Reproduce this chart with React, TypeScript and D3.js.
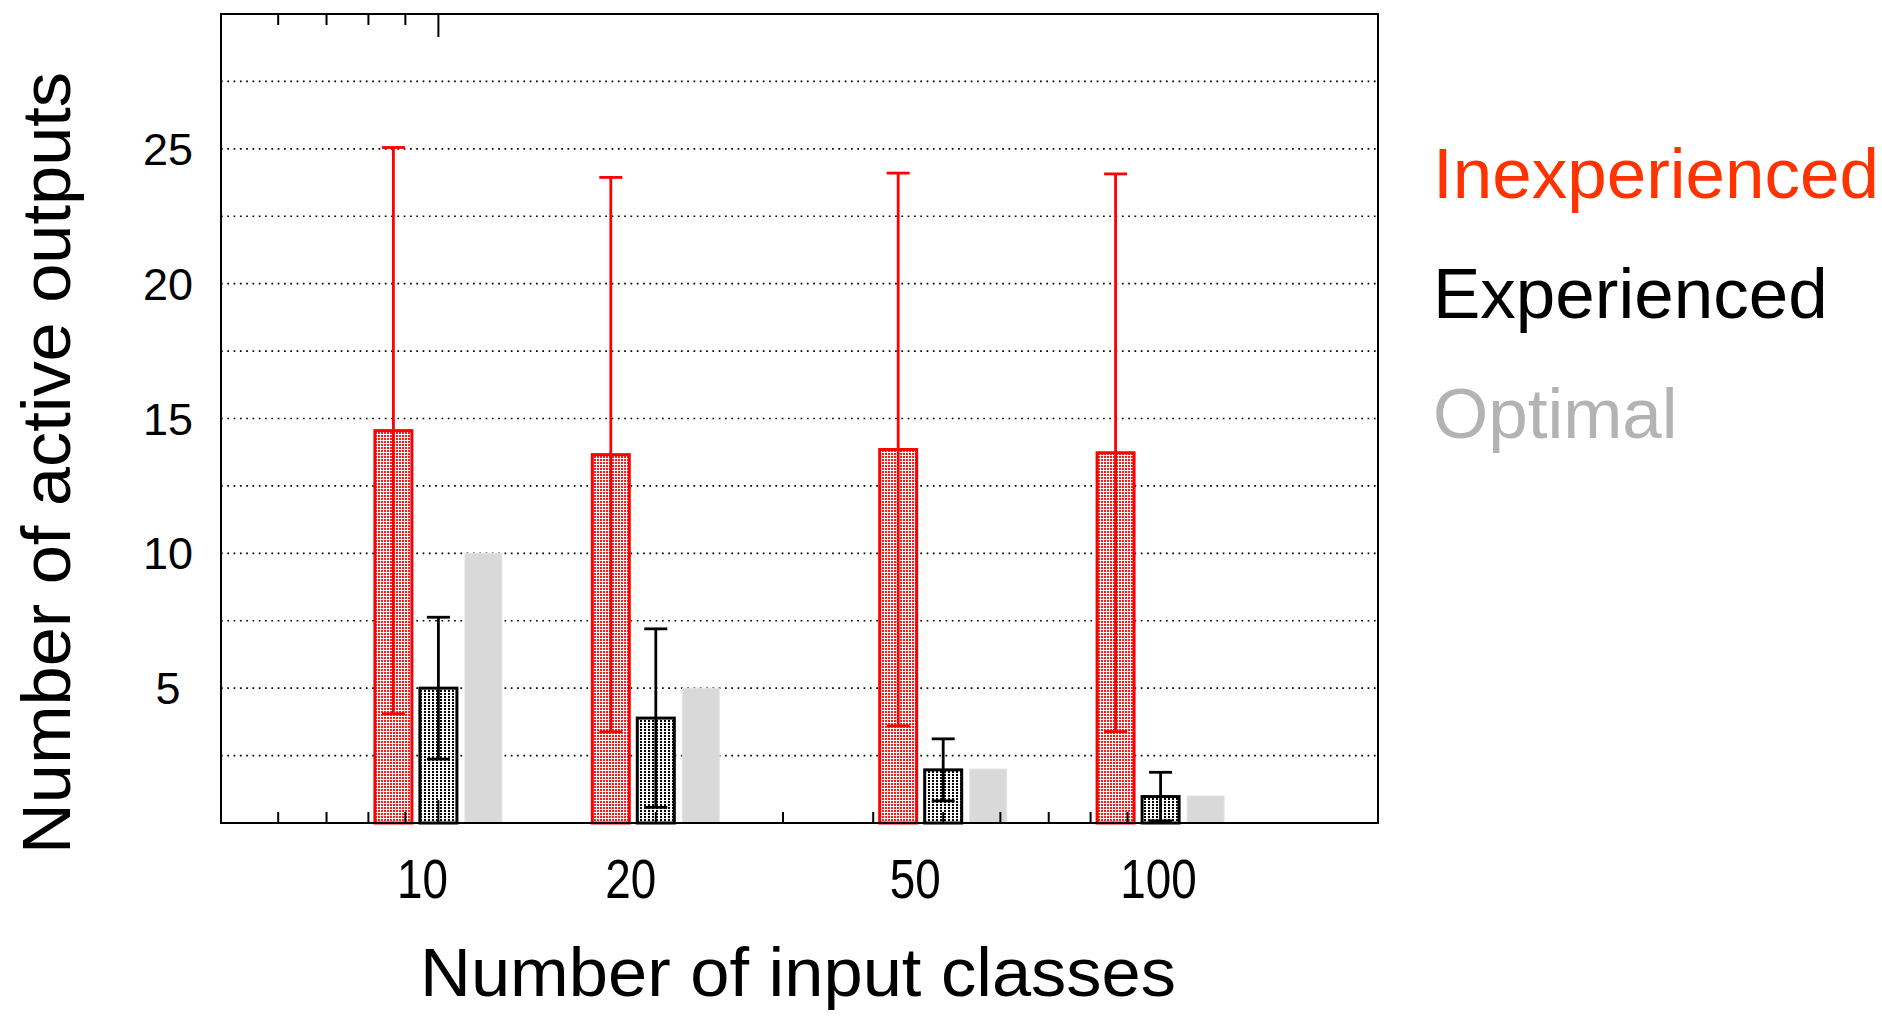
import React from "react";
import * as d3 from "d3";

const categories = [10, 20, 50, 100];
const inexperienced = [14.55, 13.66, 13.85, 13.73];
const inexperiencedErr = [10.5, 10.28, 10.25, 10.34];
const experienced = [5.0, 3.89, 1.97, 0.98];
const experiencedErr = [2.63, 3.31, 1.15, 0.9];
const optimal = [10, 5, 2, 1];
const yTicks = [5, 10, 15, 20, 25];
const gridValues = [2.5, 5, 7.5, 10, 12.5, 15, 17.5, 20, 22.5, 25, 27.5];
const topMinorTicks = [6, 7, 8, 9];
const topMajorTicks = [10];
const bottomMinorTicks = [6, 7, 8, 9, 20, 30, 40, 50, 60, 70, 80, 90];
const bottomMajorTicks = [10, 100];
const xLabelShift = [-16, -25, -28, -2];
const legendNames = ["Inexperienced", "Experienced", "Optimal"];
const legendColors = ["#ff3300", "#000000", "#b3b3b3"];

const W = 1882;
const H = 1016;
const margin = { left: 221, right: 1378, top: 14, bottom: 823 };
const FONT = "'Liberation Sans', Arial, Helvetica, sans-serif";

export default function App() {
  const x = d3.scaleLog().domain([5, 200]).range([margin.left, margin.right]);
  const y = d3.scaleLinear().domain([0, 30]).range([margin.bottom, margin.top]);
  const barW = 37;
  const step = 45;
  const capW = 23;

  const series = [
    { vals: inexperienced, errs: inexperiencedErr, off: -step, fill: "url(#redDots)", stroke: "#ff0000", sw: 3 },
    { vals: experienced, errs: experiencedErr, off: 0, fill: "url(#blackDots)", stroke: "#000000", sw: 3 },
    { vals: optimal, errs: null as number[] | null, off: step, fill: "#d9d9d9", stroke: "#e3e3e3", sw: 1 },
  ];

  return (
    <div style={{ position: "fixed", left: 0, top: 0 }}>
      <svg width={W} height={H} style={{ display: "block", background: "#fff" }}>
        <defs>
          <pattern id="redDots" patternUnits="userSpaceOnUse" width={3} height={3}>
            <rect width={3} height={3} fill="#ffffff" />
            <rect x={0} y={0} width={2} height={2} fill="#ff1a1a" />
          </pattern>
          <pattern id="blackDots" patternUnits="userSpaceOnUse" width={4} height={3}>
            <rect width={4} height={3} fill="#ffffff" />
            <rect x={0} y={0} width={2} height={2} fill="#000000" />
          </pattern>
        </defs>

        {/* grid */}
        {gridValues.map((g) => (
          <line
            key={"g" + g}
            x1={margin.left}
            x2={margin.right}
            y1={y(g)}
            y2={y(g)}
            stroke="#000"
            strokeWidth={1.7}
            strokeDasharray="1.7,4.6"
          />
        ))}

        {/* bars */}
        {series.map((s, si) =>
          categories.map((c, i) => {
            const cx = x(c) + s.off;
            return (
              <rect
                key={`b${si}-${i}`}
                x={cx - barW / 2}
                y={y(s.vals[i])}
                width={barW}
                height={y(0) - y(s.vals[i])}
                fill={s.fill}
                stroke={s.stroke}
                strokeWidth={s.sw}
              />
            );
          })
        )}

        {/* error bars */}
        {series.map((s, si) =>
          s.errs
            ? categories.map((c, i) => {
                const cx = x(c) + s.off;
                const hi = y(s.vals[i] + s.errs![i]);
                const lo = y(Math.max(0, s.vals[i] - s.errs![i]));
                return (
                  <g key={`e${si}-${i}`} stroke={s.stroke} strokeWidth={2.8}>
                    <line x1={cx} x2={cx} y1={hi} y2={lo} />
                    <line x1={cx - capW / 2} x2={cx + capW / 2} y1={hi} y2={hi} />
                    <line x1={cx - capW / 2} x2={cx + capW / 2} y1={lo} y2={lo} />
                  </g>
                );
              })
            : null
        )}

        {/* frame */}
        <rect
          x={margin.left}
          y={margin.top}
          width={margin.right - margin.left}
          height={margin.bottom - margin.top}
          fill="none"
          stroke="#000"
          strokeWidth={2}
        />

        {/* ticks */}
        {topMinorTicks.map((t) => (
          <line key={"tm" + t} x1={x(t)} x2={x(t)} y1={margin.top} y2={margin.top + 11} stroke="#000" strokeWidth={2} />
        ))}
        {topMajorTicks.map((t) => (
          <line key={"tM" + t} x1={x(t)} x2={x(t)} y1={margin.top} y2={margin.top + 23} stroke="#000" strokeWidth={2} />
        ))}
        {bottomMinorTicks.map((t) => (
          <line key={"bm" + t} x1={x(t)} x2={x(t)} y1={margin.bottom} y2={margin.bottom - 11} stroke="#000" strokeWidth={2} />
        ))}
        {bottomMajorTicks.map((t) => (
          <line key={"bM" + t} x1={x(t)} x2={x(t)} y1={margin.bottom} y2={margin.bottom - 23} stroke="#000" strokeWidth={2} />
        ))}

        {/* y tick labels */}
        {yTicks.map((t) => (
          <text
            key={"yl" + t}
            x={168}
            y={y(t) + 16}
            textAnchor="middle"
            fontFamily={FONT}
            fontSize={45}
            fill="#000"
          >
            {t}
          </text>
        ))}

        {/* x tick labels */}
        {categories.map((c, i) => (
          <text
            key={"xl" + c}
            x={x(c) + xLabelShift[i]}
            y={898}
            textAnchor="middle"
            fontFamily={FONT}
            fontSize={56}
            fill="#000"
            textLength={String(c).length * 25.5}
            lengthAdjust="spacingAndGlyphs"
          >
            {c}
          </text>
        ))}

        {/* axis titles */}
        <text
          x={798}
          y={996}
          textAnchor="middle"
          fontFamily={FONT}
          fontSize={68}
          fill="#000"
          textLength={756}
          lengthAdjust="spacingAndGlyphs"
        >
          Number of input classes
        </text>
        <text
          transform={`translate(70,463) rotate(-90)`}
          textAnchor="middle"
          fontFamily={FONT}
          fontSize={68}
          fill="#000"
          textLength={782}
          lengthAdjust="spacingAndGlyphs"
        >
          Number of active outputs
        </text>

        {/* legend */}
        {legendNames.map((n, i) => (
          <text
            key={"lg" + n}
            x={1433}
            y={198 + i * 120}
            fontFamily={FONT}
            fontSize={71}
            fill={legendColors[i]}
          >
            {n}
          </text>
        ))}
      </svg>
    </div>
  );
}
